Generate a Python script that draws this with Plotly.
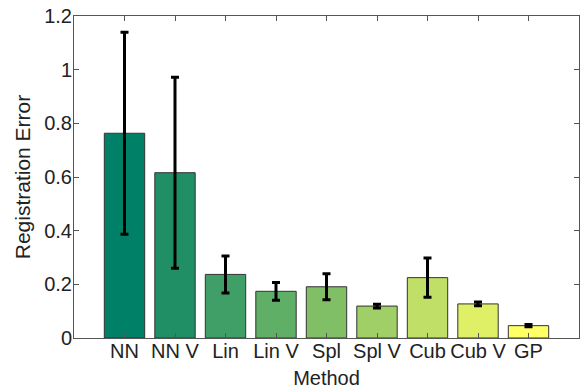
import plotly.graph_objects as go

methods = ["NN", "NN V", "Lin", "Lin V", "Spl", "Spl V", "Cub", "Cub V", "GP"]
errors = [0.763, 0.616, 0.237, 0.174, 0.191, 0.119, 0.225, 0.127, 0.046]
err_sd = [0.376, 0.356, 0.069, 0.033, 0.048, 0.007, 0.073, 0.007, 0.004]
y_ticks = [0, 0.2, 0.4, 0.6, 0.8, 1, 1.2]
y_ticktext = ["0", "0.2", "0.4", "0.6", "0.8", "1", "1.2"]

n = len(methods)
positions = list(range(1, n + 1))

def summer(i, n):
    t = i / (n - 1)
    return "rgb({},{},{})".format(round(255 * t), round(255 * (0.5 + 0.5 * t)), round(255 * 0.4))

colors = [summer(i, n) for i in range(n)]

font = "Liberation Sans, Arial, sans-serif"

fig = go.Figure()
fig.add_trace(go.Bar(
    x=positions, y=errors, width=0.8,
    marker=dict(color=colors, line=dict(color="#333333", width=1)),
    error_y=dict(type="data", array=err_sd, visible=True, color="black", thickness=3, width=4),
))

fig.update_layout(
    width=584, height=391,
    margin=dict(l=74, r=5, t=16, b=53),
    paper_bgcolor="white", plot_bgcolor="white",
    showlegend=False,
    font=dict(family=font, size=20, color="#222222"),
    xaxis=dict(
        range=[0, 10], tickmode="array", tickvals=positions, ticktext=methods,
        ticks="inside", ticklen=5, tickcolor="#555555", showline=True, linecolor="#555555",
        linewidth=1, mirror="ticks", showgrid=False, zeroline=False, automargin=False,
        ticklabelstandoff=-5, ticklabeloverflow="allow",
        title=dict(text="Method", standoff=9, font=dict(size=20)),
        tickfont=dict(size=20),
    ),
    yaxis=dict(
        range=[0, 1.2], tickmode="array", tickvals=y_ticks, ticktext=y_ticktext,
        ticks="inside", ticklen=5, tickcolor="#555555", showline=True, linecolor="#555555",
        linewidth=1, mirror="ticks", showgrid=False, zeroline=False, automargin=False,
        ticklabelstandoff=-3, ticklabeloverflow="allow",
        title=dict(text="Registration Error", standoff=7, font=dict(size=21)),
        tickfont=dict(size=20),
    ),
)

fig.write_html("out.html", config={"displayModeBar": False},
               post_script="document.body.style.margin='0';")
